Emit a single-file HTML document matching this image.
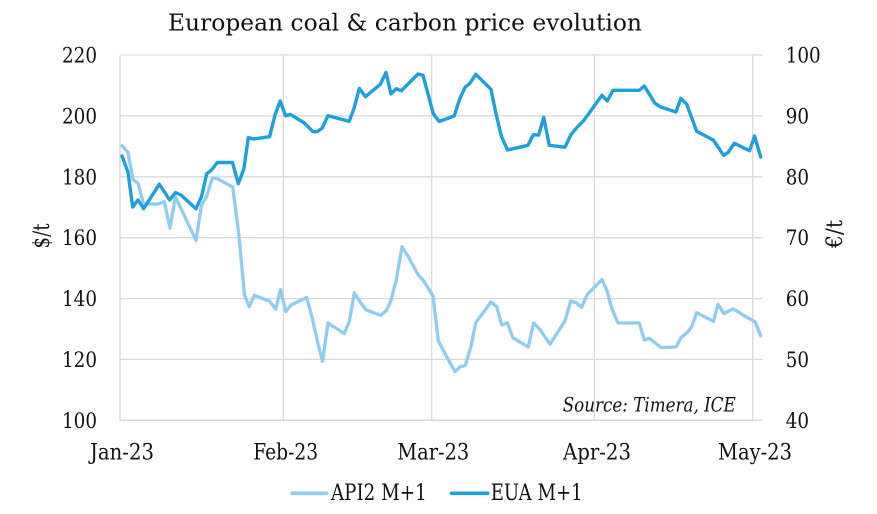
<!DOCTYPE html>
<html><head><meta charset="utf-8"><style>
html,body{margin:0;padding:0;background:#fff;}
svg{display:block;}
text{font-family:"DejaVu Serif","Liberation Serif",serif;fill:#111;}
</style></head><body>
<svg width="877" height="514" viewBox="0 0 877 514" xmlns="http://www.w3.org/2000/svg">
<rect width="877" height="514" fill="#fff"/>
<g stroke="#d9d9d9" stroke-width="1.3" fill="none">
<line x1="120" y1="55" x2="762.7" y2="55"/>
<line x1="120" y1="115.9" x2="762.7" y2="115.9"/>
<line x1="120" y1="176.8" x2="762.7" y2="176.8"/>
<line x1="120" y1="237.7" x2="762.7" y2="237.7"/>
<line x1="120" y1="298.6" x2="762.7" y2="298.6"/>
<line x1="120" y1="359.4" x2="762.7" y2="359.4"/>
<line x1="120" y1="420.3" x2="762.7" y2="420.3"/>
<line x1="120" y1="55" x2="120" y2="421"/>
<line x1="283.3" y1="55" x2="283.3" y2="421"/>
<line x1="431.7" y1="55" x2="431.7" y2="421"/>
<line x1="594.3" y1="55" x2="594.3" y2="421"/>
<line x1="752.7" y1="55" x2="752.7" y2="421"/>
</g>
<text x="168" y="30.7" font-size="23.5" textLength="474" lengthAdjust="spacingAndGlyphs">European coal &amp; carbon price evolution</text>
<g font-size="21.5" text-anchor="end">
<text x="97" y="62.5" textLength="35" lengthAdjust="spacingAndGlyphs">220</text>
<text x="97" y="123.4" textLength="35" lengthAdjust="spacingAndGlyphs">200</text>
<text x="97" y="184.3" textLength="35" lengthAdjust="spacingAndGlyphs">180</text>
<text x="97" y="245.2" textLength="35" lengthAdjust="spacingAndGlyphs">160</text>
<text x="97" y="306.1" textLength="35" lengthAdjust="spacingAndGlyphs">140</text>
<text x="97" y="366.9" textLength="35" lengthAdjust="spacingAndGlyphs">120</text>
<text x="97" y="427.8" textLength="35" lengthAdjust="spacingAndGlyphs">100</text>
</g>
<g font-size="21.5">
<text x="785.7" y="62.5" textLength="35" lengthAdjust="spacingAndGlyphs">100</text>
<text x="785.7" y="123.4" textLength="23.3" lengthAdjust="spacingAndGlyphs">90</text>
<text x="785.7" y="184.3" textLength="23.3" lengthAdjust="spacingAndGlyphs">80</text>
<text x="785.7" y="245.2" textLength="23.3" lengthAdjust="spacingAndGlyphs">70</text>
<text x="785.7" y="306.1" textLength="23.3" lengthAdjust="spacingAndGlyphs">60</text>
<text x="785.7" y="366.9" textLength="23.3" lengthAdjust="spacingAndGlyphs">50</text>
<text x="785.7" y="427.8" textLength="23.3" lengthAdjust="spacingAndGlyphs">40</text>
</g>
<g font-size="22.5" text-anchor="middle">
<text x="122" y="459.5" textLength="64" lengthAdjust="spacingAndGlyphs">Jan-23</text>
<text x="285.7" y="459.5" textLength="65" lengthAdjust="spacingAndGlyphs">Feb-23</text>
<text x="433.3" y="459.5" textLength="72" lengthAdjust="spacingAndGlyphs">Mar-23</text>
<text x="597" y="459.5" textLength="68" lengthAdjust="spacingAndGlyphs">Apr-23</text>
<text x="755" y="459.5" textLength="74" lengthAdjust="spacingAndGlyphs">May-23</text>
</g>
<text transform="translate(49,236) rotate(-90)" font-size="22.5" text-anchor="middle" textLength="25" lengthAdjust="spacingAndGlyphs">$/t</text>
<text transform="translate(842,234) rotate(-90)" font-size="22.5" text-anchor="middle" textLength="28" lengthAdjust="spacingAndGlyphs">€/t</text>
<text x="562.7" y="411.5" font-size="20" font-style="italic" textLength="173" lengthAdjust="spacingAndGlyphs">Source: Timera, ICE</text>
<polyline fill="none" stroke="#8ecdf0" stroke-width="3.3" stroke-linejoin="round" stroke-linecap="round" points="122,145.8 128,152.3 133,179.6 138,183.3 143.5,203.8 158.3,204 164.3,201.7 170,228.3 175.3,196.7 181.2,209 196,240.4 201.5,205.3 206.5,196.7 212.3,178.3 217,178.6 232.8,187.2 239,236 244.5,295 249.2,306.7 254.3,295.3 269.6,301.3 275.7,309.2 280.5,289.7 285.8,311.7 291,305 306.7,297.5 312.3,318.3 317.7,342.7 322.5,361.3 328,323 344.2,333.6 349.3,321.7 354.3,292.7 360,301.7 366,309.8 380.7,315.3 386.3,310.7 391,300.5 396.2,280 402,246.7 408.3,256.7 418.3,275 423.3,280.5 428.3,288.3 433,296 438.3,340.7 446.7,356.7 455,371.7 460.3,366.7 465.3,365.5 470.5,348.3 475.8,322.7 491,302 496.7,306.7 501.7,325 507.5,323 512.8,337.7 528.3,347 533.6,323 540,329.6 550,344.2 565,320.8 570.7,301 576.2,302.7 581.6,307.3 587.2,294.6 602,279.5 607,290.8 611.7,308.3 618,323 639.3,323 644.3,340 649.3,338.3 661,347.5 676,347 681,337.5 687.3,332.7 691.7,326.7 696.7,312.7 713.3,321.3 718,304.3 724,313.7 733,308.8 747,317.3 755,321.8 760.7,335.8"/>
<polyline fill="none" stroke="#1fa0dc" stroke-width="3.4" stroke-linejoin="round" stroke-linecap="round" points="122,156 128,172.3 132.7,207 138,200 143.7,208.7 159.3,184.2 169.7,200 175.3,192.5 181,195 196,208.7 201.5,196.7 206.7,173.7 211.2,170.4 217.3,162.5 232.5,162.5 238.3,183.7 243.8,169 248.3,137.7 253.8,139 269.6,136.7 275,115 280.2,101 285.5,115.8 290.5,114.5 304,122.7 313,131.7 317,131.7 322.3,128 327.9,115.7 349.2,121.3 354.2,107.8 359.3,88.3 365.5,96.7 380.4,84.2 386,72.5 391,93.8 396.3,88.7 401.3,90.8 418,74 423,75.3 428,94 433.3,113.8 439.2,121.5 454.2,116 459.5,99.5 465,87.3 469.5,83.8 475.8,74.3 491,89.3 495.8,113 501.4,136.3 507.5,150 528,145.3 533.3,134.7 538.7,135 543.7,117.3 549.3,145.3 565,147.2 571,134.5 576.2,128.3 583.3,121 589,113.3 602,95.3 607.3,101 613,90.3 639.3,90.3 644.3,86 655,103.3 660,106.7 676,112 680.8,98.3 686.7,104.2 696.7,131.4 713.3,140 723.7,155.4 728.3,152.2 734.3,143.3 749.6,150.7 754.6,136 760.7,157"/>
<line x1="292" y1="493.3" x2="326.7" y2="493.3" stroke="#8ecdf0" stroke-width="3.6" stroke-linecap="round"/>
<text x="331" y="500" font-size="22.5" textLength="95.7" lengthAdjust="spacingAndGlyphs">API2 M+1</text>
<line x1="451.5" y1="493.3" x2="487.7" y2="493.3" stroke="#1fa0dc" stroke-width="3.6" stroke-linecap="round"/>
<text x="490.7" y="500" font-size="22.5" textLength="92" lengthAdjust="spacingAndGlyphs">EUA M+1</text>
</svg>
</body></html>
